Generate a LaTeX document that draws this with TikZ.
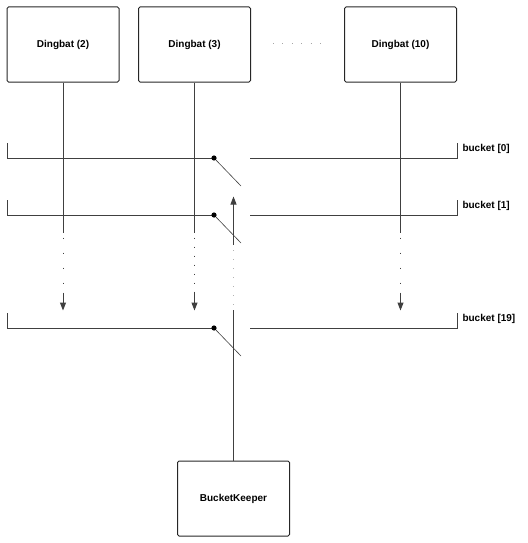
\documentclass[tikz,border=0pt]{standalone}
\usepackage{fontspec}
\setmainfont{Liberation Sans}
\usetikzlibrary{arrows.meta}
\tikzset{box/.style={draw=black!85,rounded corners=1.5pt,minimum width=112pt,minimum height=75pt,
  inner sep=0pt,font=\bfseries\fontsize{10}{12}\selectfont}}
\tikzset{lbl/.style={anchor=west,inner sep=0pt,font=\bfseries\fontsize{10}{12}\selectfont}}

\begin{document}
\begin{tikzpicture}[x=1pt,y=-1pt,line width=1pt,draw=black!75,>={Triangle[length=8pt,width=6pt]}]
  \useasboundingbox (0,0) rectangle (527,543);
  \node[box] (D2) at (63,44.5) {Dingbat (2)};
  \node[box] (D3) at (194.5,44.5) {Dingbat (3)};
  \node[box] (D10) at (400.5,44.5) {Dingbat (10)};
  \node[box] (BK) at (233.5,498.5) {BucketKeeper};
  \draw[black!35,line width=1pt,dash pattern=on 1pt off 8.4pt] (273,44) -- (322,44);
  % buckets
  \foreach \y/\n in {158/0,215/1,328/19} {
    \coordinate (l\n) at (7,\y);
    \coordinate (s\n) at (214,\y);
    \coordinate (r\n) at (457,\y);
    \draw (l\n) ++(0,-15) -- (l\n) -- (s\n);
    \draw (250,\y) -- (r\n) -- ++(0,-15);
    \draw[line width=0.6pt] (s\n) -- ++(27,28);
    \fill (s\n) circle (2.6pt);
    \node[lbl] (b\n) at (462,\y-9) {bucket [\n]};
  }
  % dingbats write down
  \foreach \d/\g in {D2/14,D3/8,D10/14} {
    \draw (\d.south) -- ++(0,150) coordinate (\d a);
    \draw[dash pattern=on 1pt off \g pt] (\d a) ++(0,5) -- ++(0,55) coordinate (\d b);
    \draw[->] (\d b) -- ++(0,18);
  }
  % keeper reads up
  \draw (BK.north) -- ++(0,-151) coordinate (k1);
  \draw[black!30,dash pattern=on 1pt off 8pt] (k1) ++(0,-5) -- ++(0,-60) coordinate (k2);
  \draw[->] (k2) -- ++(0,-48);
\end{tikzpicture}
\end{document}
